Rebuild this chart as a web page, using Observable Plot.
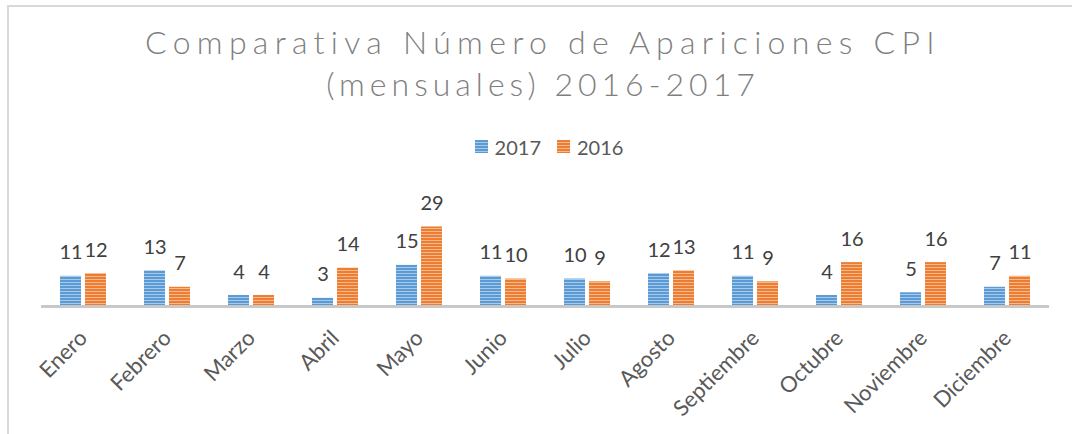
<!DOCTYPE html>
<html>
<head>
<meta charset="utf-8">
<script src="https://cdn.jsdelivr.net/npm/d3@7"></script>
<script src="https://cdn.jsdelivr.net/npm/@observablehq/plot@0.6"></script>
<style>
  html, body { margin: 0; padding: 0; background: #fff; overflow: hidden; }
  body { width: 1072px; height: 434px; position: relative; font-family: Lato, "Open Sans", sans-serif; }
  #frame { position: absolute; left: 7px; top: 5px; width: 1200px; height: 600px;
           border-left: 2px solid #d9d9d9; border-top: 2px solid #d9d9d9; }
  #title { position: absolute; left: 0; top: 21px; width: 1086px; text-align: center;
           font-family: Lato, sans-serif; font-weight: 300; font-size: 32px; line-height: 42px;
           color: #7f7f7f; }
  #title .l1 { letter-spacing: 6.3px; }
  #title .l2 { letter-spacing: 5.0px; }
  #legend { position: absolute; left: 0; top: 133px; width: 1098px; text-align: center;
            font-size: 20px; color: #595959; }
  #legend span.item { display: inline-flex; align-items: center; margin: 0 8px; }
  #legend svg { margin-right: 7px; }
  #chart { position: absolute; left: 0; top: 160px; }
</style>
</head>
<body>
<svg width="0" height="0" style="position:absolute">
  <defs>
    <pattern id="p2017" patternUnits="userSpaceOnUse" width="6" height="3">
      <rect width="6" height="3" fill="#5b9bd5"></rect>
      <rect y="2" width="6" height="1" fill="#a9c9ea"></rect>
    </pattern>
    <pattern id="p2016" patternUnits="userSpaceOnUse" width="6" height="3">
      <rect width="6" height="3" fill="#ed7d31"></rect>
      <rect y="2" width="6" height="1" fill="#f6b88e"></rect>
    </pattern>
  </defs>
</svg>
<div id="frame"></div>
<div id="title"><span class="l1">Comparativa Número de Apariciones CPI</span><br><span class="l2">(mensuales) 2016-2017</span></div>
<div id="legend"></div>
<div id="chart"></div>
<script>
const months = ["Enero","Febrero","Marzo","Abril","Mayo","Junio","Julio","Agosto","Septiembre","Octubre","Noviembre","Diciembre"];
const series = ["2017", "2016"];
const values2017 = [11, 13, 4, 3, 15, 11, 10, 12, 11, 4, 5, 7];
const values2016 = [12, 7, 4, 14, 29, 10, 9, 13, 9, 16, 16, 11];

const fills = {"2017": "url(#p2017)", "2016": "url(#p2016)"};

const rows = [];
months.forEach((m, i) => {
  rows.push({month: m, year: "2017", value: values2017[i]});
  rows.push({month: m, year: "2016", value: values2016[i]});
});

// legend
const legend = document.getElementById("legend");
series.forEach(s => {
  const item = document.createElement("span");
  item.className = "item";
  item.innerHTML = `<svg width="13" height="13"><rect width="13" height="13" fill="${fills[s]}"></rect></svg>${s}`;
  legend.appendChild(item);
});

const chart = Plot.plot({
  width: 1072,
  height: 274,
  marginLeft: 37,
  marginRight: 19,
  marginTop: 50,
  marginBottom: 128,
  style: {fontFamily: "Lato, 'Open Sans', sans-serif", fontSize: "19px", color: "#595959", background: "transparent"},
  fx: {domain: months, padding: 0, label: null},
  x: {domain: series, paddingInner: 0.154, paddingOuter: 0.702, axis: null},
  y: {domain: [0, 35], axis: null},
  marks: [
    Plot.barY(rows.filter(d => d.year === "2017"), {fx: "month", x: "year", y: "value", fill: fills["2017"]}),
    Plot.barY(rows.filter(d => d.year === "2016"), {fx: "month", x: "year", y: "value", fill: fills["2016"]}),
    Plot.ruleY([0], {stroke: "#c8c8c8", strokeWidth: 3}),
    Plot.text(rows, {fx: "month", x: "year", y: "value", text: d => String(d.value),
      lineAnchor: "bottom", dy: -17, fontSize: 20, fill: "#404040"}),
    Plot.axisFx({anchor: "bottom", label: null, tickSize: 0, tickPadding: 28, tickRotate: -45,
      fontSize: 22, fill: "#595959"})
  ]
});
document.getElementById("chart").appendChild(chart);
</script>
</body>
</html>
